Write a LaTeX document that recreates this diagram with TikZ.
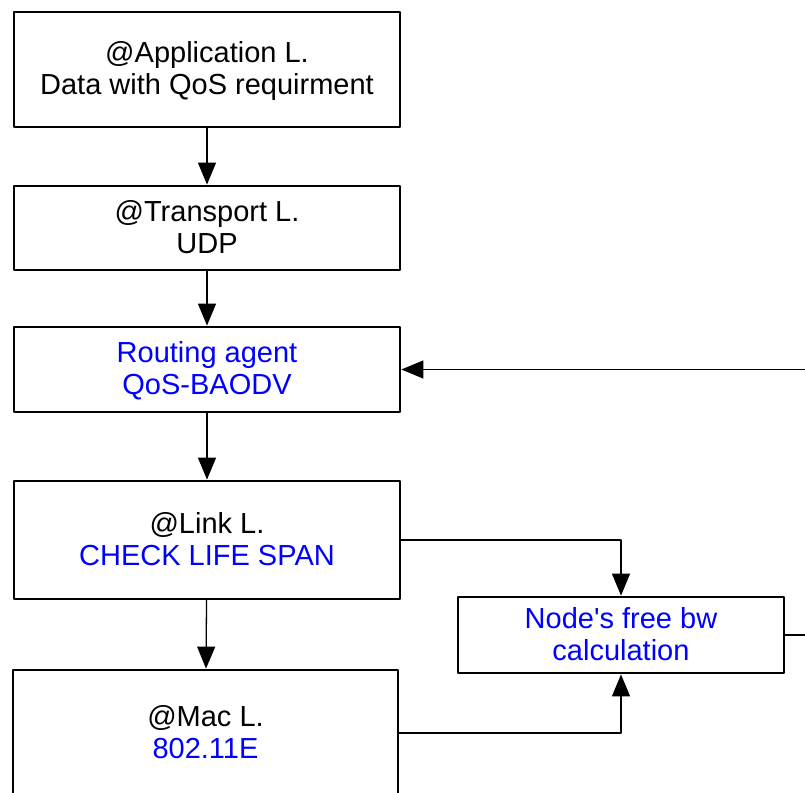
\documentclass[tikz,border=0pt]{standalone}
\usepackage{fontspec}
\setmainfont{Liberation Sans}
\usepackage{tikz}
\usetikzlibrary{arrows.meta}
\definecolor{qqqqff}{rgb}{0.,0.,1.}
\tikzstyle{every node}=[font=\fontsize{29}{32}\selectfont]
\tikzstyle{layer}=[draw,line width=2.8pt,align=center,inner sep=0pt]
% two lines with fixed height and depth, whatever letters they hold
\newcommand{\twolines}[2]{\rule{0pt}{26pt}#1\\#2\rule[-8pt]{0pt}{8pt}}

\begin{document}
\begin{tikzpicture}[line cap=round,line join=round,>={Triangle[length=22pt,width=18pt]},x=1pt,y=-1pt]
    \useasboundingbox (0,0) rectangle (805,792);
    \clip (0,0) rectangle (805,792);
    % protocol stack
    \node [layer,minimum width=386pt,minimum height=115pt] (app) at (207,69.5) {\twolines{@Application L.}{Data with QoS requirment}};
    \node [layer,minimum width=386pt,minimum height=84pt] (transport) at (207,228) {\twolines{@Transport L.}{UDP}};
    \node [layer,minimum width=386pt,minimum height=85pt,text=qqqqff] (routing) at (207,369.5) {\twolines{Routing agent}{QoS-BAODV}};
    \node [layer,minimum width=386pt,minimum height=118pt] (link) at (207,540) {\twolines{@Link L.}{\textcolor{qqqqff}{CHECK LIFE SPAN}}};
    \node [layer,minimum width=385pt,minimum height=126pt] (mac) at (205.5,733) {\twolines{@Mac L.}{\textcolor{qqqqff}{802.11E}}};
    \node [layer,minimum width=326pt,minimum height=76pt,text=qqqqff] (bw) at (621,635) {\twolines{Node\textquotesingle s free bw}{calculation}};
    % arrows
    \draw [->,line width=1.3pt] (app) -- (transport);
    \draw [->,line width=1.3pt] (transport) -- (routing);
    \draw [->,line width=1.3pt] (routing) -- (link);
    \draw [->,line width=1.3pt] (link) -- (mac);
    \draw [->,line width=1.3pt] (link.east) -| (bw.north);
    \draw [->,line width=1.3pt] (mac.east) -| (bw.south);
    \draw [->,line width=1.3pt] (bw.east) -- ++(40,0) |- (routing.east);
\end{tikzpicture}
\end{document}
